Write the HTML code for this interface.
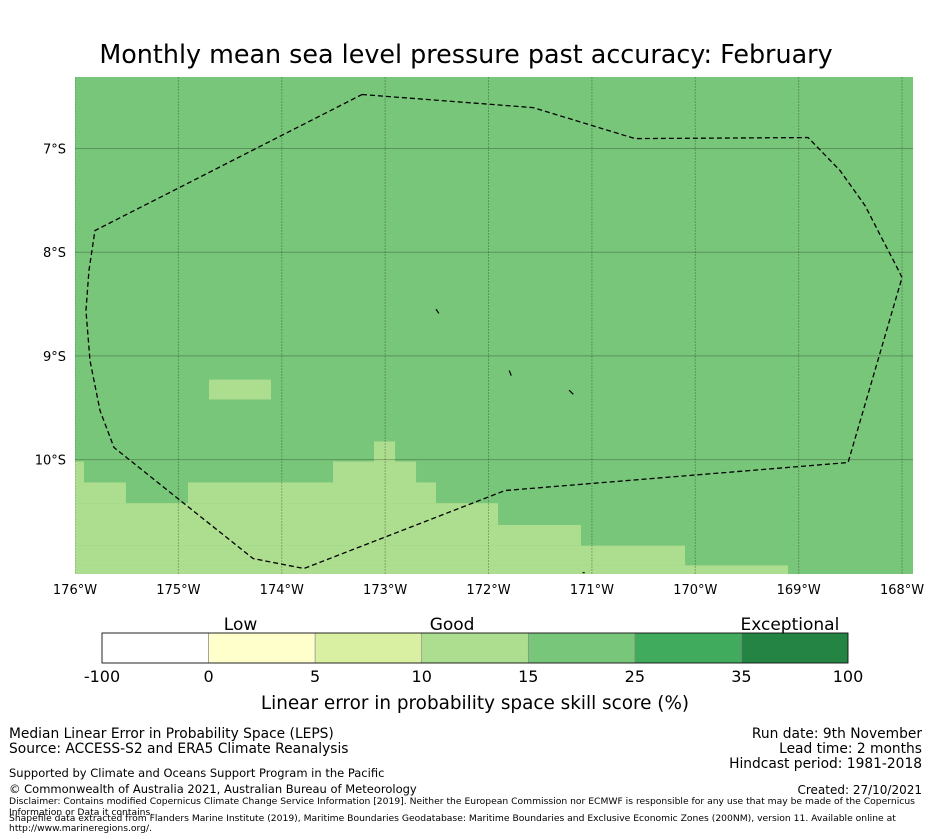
<!DOCTYPE html>
<html><head><meta charset="utf-8">
<style>
body{margin:0;background:#fff;font-family:"DejaVu Sans","Liberation Sans",sans-serif;}
svg{display:block}
</style></head>
<body>
<svg id="chart" width="931" height="839" xmlns="http://www.w3.org/2000/svg">
<text x="466" y="63" text-anchor="middle" font-size="25.4" font-family="DejaVu Sans, Liberation Sans, sans-serif">Monthly mean sea level pressure past accuracy: February</text>
<g id="map"></g>
<g id="cbar"></g>
<g font-family="DejaVu Sans, Liberation Sans, sans-serif" font-size="13.8">
<text x="9" y="738">Median Linear Error in Probability Space (LEPS)</text>
<text x="9" y="753">Source: ACCESS-S2 and ERA5 Climate Reanalysis</text>
<text x="9" y="777" font-size="11.5">Supported by Climate and Oceans Support Program in the Pacific</text>
<text x="9" y="793" font-size="11.5">© Commonwealth of Australia 2021, Australian Bureau of Meteorology</text>
<text x="922" y="738" text-anchor="end">Run date: 9th November</text>
<text x="922" y="753" text-anchor="end">Lead time: 2 months</text>
<text x="922" y="768" text-anchor="end">Hindcast period: 1981-2018</text>
<text x="922" y="794" text-anchor="end" font-size="12">Created: 27/10/2021</text>
<text x="9" y="804" font-size="9.2">Disclaimer: Contains modified Copernicus Climate Change Service Information [2019]. Neither the European Commission nor ECMWF is responsible for any use that may be made of the Copernicus</text>
<text x="9" y="815" font-size="9.2">Information or Data it contains.</text>
<text x="9" y="821" font-size="9.2">Shapefile data extracted from Flanders Marine Institute (2019), Maritime Boundaries Geodatabase: Maritime Boundaries and Exclusive Economic Zones (200NM), version 11. Available online at</text>
<text x="9" y="831" font-size="9.2">http://www.marineregions.org/.</text>
</g>
</svg>
<script>
const lonTicks=[-176,-175,-174,-173,-172,-171,-170,-169,-168];
const latTicks=[-7,-8,-9,-10];
const lightCells=[
 [-174.704,-174.104,-9.228,-9.42],
 [-173.108,-172.904,-9.825,-10.018],
 [-176,-175.913,-10.018,-10.22],
 [-173.504,-172.701,-10.018,-10.22],
 [-176,-175.507,-10.22,-10.42],
 [-174.907,-172.508,-10.22,-10.42],
 [-176,-171.908,-10.42,-10.63],
 [-176,-171.105,-10.63,-10.83],
 [-176,-170.099,-10.83,-11.02],
 [-176,-169.103,-11.02,-11.2]
];
const boundaryLon=[-173.224,-171.569,-170.583,-168.909,-168.60,-168.358,-168.184,-168.058,-168.0,-168.522,-171.84,-173.785,-174.278,-175.623,-175.758,-175.855,-175.894,-175.865,-175.807,-173.224];
const boundaryLat=[-6.479,-6.605,-6.904,-6.894,-7.212,-7.55,-7.887,-8.128,-8.244,-10.028,-10.298,-11.05,-10.954,-9.883,-9.527,-9.044,-8.562,-8.176,-7.791,-6.479];
const cbColors=["#ffffff","#ffffcc","#d9f0a3","#addd8e","#78c679","#41ab5d","#238443"];
const cbTicks=["-100","0","5","10","15","25","35","100"];
const cbCategories=["Low","Good","Exceptional"];
const cbCatPos=[1.30,3.285,6.455];

const NS="http://www.w3.org/2000/svg";
const X0=75,X1=913,Y0=77,Y1=574;
const lonMin=-176,lonMax=-167.894,latTop=-6.31,latBot=-11.103;
const xs=l=>X0+(l-lonMin)/(lonMax-lonMin)*(X1-X0);
const ys=l=>Y0+(latTop-l)/(latTop-latBot)*(Y1-Y0);
function mk(t,a,p){const e=document.createElementNS(NS,t);for(const k in a)e.setAttribute(k,a[k]);p.appendChild(e);return e;}
const map=document.getElementById('map');
let bg=mk('rect',{x:X0,y:Y0,width:X1-X0,height:Y1-Y0,fill:'#78c679'},map);


const cp=mk('clipPath',{id:'cp'},map);mk('rect',{x:X0,y:Y0,width:X1-X0,height:Y1-Y0},cp);
const cg=mk('g',{'clip-path':'url(#cp)'},map);
lightCells.forEach(c=>{
 const r=mk('rect',{x:xs(c[0]),y:ys(c[2]),width:xs(c[1])-xs(c[0]),height:ys(c[3])-ys(c[2]),fill:'#addd8e'},cg);
 
 
});
lonTicks.forEach(l=>{
 const x=xs(l);
 const g=mk('line',{x1:x,x2:x,y1:Y0,y2:Y1,stroke:'#000','stroke-opacity':0.25,'stroke-width':1,'stroke-dasharray':'2,1'},cg);
 
 
 const t=mk('text',{x:x,y:594,'text-anchor':'middle','font-size':13},map);
 t.textContent=Math.abs(l)+'°W';
 
 
});
latTicks.forEach(l=>{
 const y=ys(l);
 const g=mk('line',{x1:X0,x2:X1,y1:y,y2:y,stroke:'#000','stroke-opacity':0.25,'stroke-width':1},cg);
 
 
 const t=mk('text',{x:66,y:y+5,'text-anchor':'end','font-size':13},map);
 t.textContent=Math.abs(l)+'°S';
 
 
});
const pts=boundaryLon.map((l,i)=>xs(l)+','+ys(boundaryLat[i])).join(' ');
const b=mk('polyline',{points:pts,fill:'none',stroke:'#000','stroke-width':1.3,'stroke-dasharray':'5,3'},cg);


const isl=[[-172.508,-8.55,-172.48,-8.59],[-171.80,-9.14,-171.78,-9.19],[-171.22,-9.33,-171.18,-9.37],[-171.09,-11.09,-171.07,-11.09]];
isl.forEach(s=>{const e=mk('line',{x1:xs(s[0]),y1:ys(s[1]),x2:xs(s[2]),y2:ys(s[3]),stroke:'#000','stroke-width':1.2},cg);
 
 });

const cb=document.getElementById('cbar');
const CX0=102,CX1=848,CY=633,CH=30,n=cbColors.length,w=(CX1-CX0)/n;
cbColors.forEach((c,i)=>{
 const r=mk('rect',{x:CX0+i*w,y:CY,width:w,height:CH,fill:c,stroke:'#888','stroke-width':0.6},cb);
 
 
});
mk('rect',{x:CX0,y:CY,width:CX1-CX0,height:CH,fill:'none',stroke:'#000','stroke-width':0.8},cb);
cbTicks.forEach((t,i)=>{
 const e=mk('text',{x:CX0+i*w,y:682,'text-anchor':'middle','font-size':16},cb);
 e.textContent=t;
 
 
});
cbCategories.forEach((t,i)=>{
 const e=mk('text',{x:CX0+cbCatPos[i]*w,y:630,'text-anchor':'middle','font-size':17},cb);
 e.textContent=t;
 
 
});
const at=mk('text',{x:475,y:709,'text-anchor':'middle','font-size':18.4},cb);
at.textContent='Linear error in probability space skill score (%)';


</script>
</body></html>
